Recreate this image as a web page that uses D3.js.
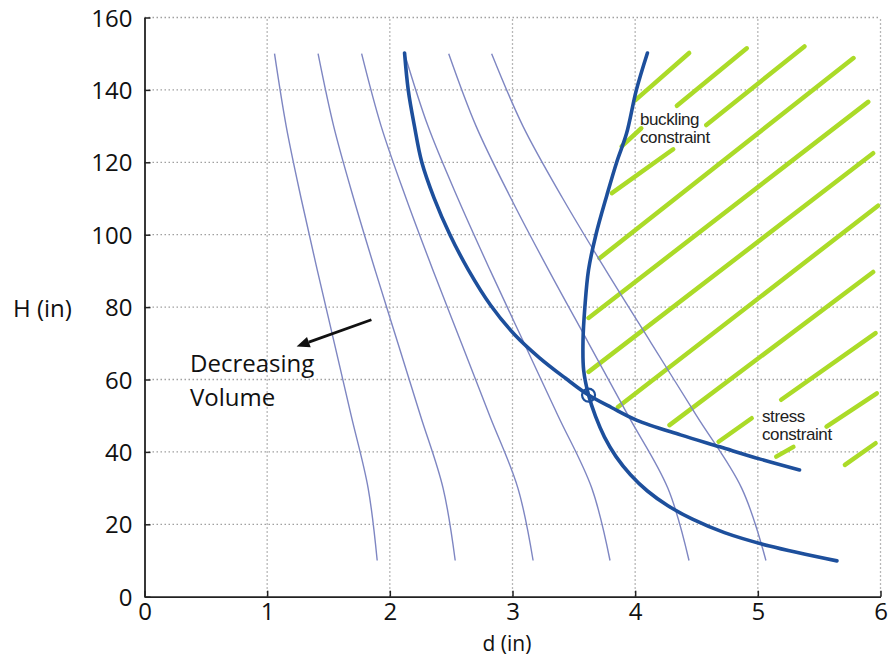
<!DOCTYPE html>
<html>
<head>
<meta charset="utf-8">
<script src="https://cdn.jsdelivr.net/npm/d3@7"></script>
<style>
  body { margin: 0; background: #fff; }
  svg { display: block; }
</style>
</head>
<body>
<div id="chart"></div>
<script>
// axis ticks
var xTicks = [0, 1, 2, 3, 4, 5, 6];
var yTicks = [0, 20, 40, 60, 80, 100, 120, 140, 160];

// constant volume contours: d value of each contour at these heights
var contourH = [150, 130, 110, 90, 70, 50, 30, 10];
var contourD = [
  [1.060, 1.155, 1.277, 1.410, 1.548, 1.685, 1.823, 1.897],
  [1.415, 1.542, 1.705, 1.882, 2.066, 2.250, 2.434, 2.533],
  [1.770, 1.929, 2.133, 2.354, 2.584, 2.814, 3.044, 3.168],
  [2.120, 2.311, 2.555, 2.820, 3.095, 3.371, 3.646, 3.795],
  [2.480, 2.703, 2.988, 3.298, 3.621, 3.943, 4.266, 4.439],
  [2.830, 3.085, 3.410, 3.764, 4.132, 4.500, 4.868, 5.066]
];

// constraint curves [d, H]
var stressCurve = [[2.12,150.2],[2.15,140],[2.20,130.1],[2.26,120.1],[2.36,110.2],[2.49,100],
  [2.64,90.3],[2.82,80.6],[3.02,72.3],[3.22,66],[3.43,60.4],[3.62,55.7],[3.81,52.2],[4.01,48.8],
  [4.37,44.7],[4.69,41.4],[5.02,38],[5.34,35]];
var bucklingCurve = [[4.10,150.2],[4.01,140],[3.93,128],[3.85,120.1],[3.77,111],[3.68,100],
  [3.62,90.3],[3.59,80],[3.575,71],[3.58,62.6],[3.62,55.7],[3.677,49.8],[3.75,44.1],[3.844,38.7],
  [3.962,33.7],[4.10,29.2],[4.264,25.2],[4.467,21.4],[4.728,17.7],[5.095,14.0],[5.645,9.9]];

// optimum point
var optimum = [3.62, 55.7];

// infeasible region hatching, [d1, H1, d2, H2]
var hatch = [
  [4.00,137.1, 4.44,150.2],
  [4.34,135.6, 4.91,151.5],
  [4.58,130.3, 5.38,152.0],
  [3.89,124.4, 4.05,129.4],
  [3.81,111.5, 4.31,123.6],
  [3.71,93.5, 5.78,148.8],
  [3.62,77.0, 5.90,136.7],
  [3.62,62.1, 5.94,122.5],
  [3.86,52.4, 5.98,108.0],
  [4.28,47.4, 5.94,89.7],
  [5.19,54.4, 5.96,72.8],
  [4.68,42.8, 4.95,49.3],
  [5.56,47.0, 5.97,56.2],
  [5.15,38.7, 5.29,41.4],
  [5.71,36.4, 5.96,42.4]
];

// decreasing volume arrow [d, H] from -> to
var arrowFrom = [1.85, 76.5];
var arrowTo = [1.24, 69.1];

var width = 889, height = 657;
var margin = {top: 17.5, right: 8.5, bottom: 60.3, left: 144.5};

var svg = d3.select("#chart").append("svg")
  .attr("width", width)
  .attr("height", height);

var x = d3.scaleLinear().domain([0, 6]).range([margin.left, width - margin.right]);
var y = d3.scaleLinear().domain([0, 160]).range([height - margin.bottom, margin.top]);

var font = "'Open Sans', 'Noto Sans', sans-serif";

// dotted grid
svg.append("g").selectAll("line")
  .data(xTicks.slice(1))
  .enter().append("line")
  .attr("x1", function(d) { return x(d); })
  .attr("x2", function(d) { return x(d); })
  .attr("y1", y(0)).attr("y2", y(160))
  .attr("stroke", "#a0a0a0").attr("stroke-width", 1.3)
  .attr("stroke-dasharray", "1.5,2.5");

svg.append("g").selectAll("line")
  .data(yTicks.slice(1))
  .enter().append("line")
  .attr("x1", x(0)).attr("x2", x(6))
  .attr("y1", function(d) { return y(d); })
  .attr("y2", function(d) { return y(d); })
  .attr("stroke", "#a0a0a0").attr("stroke-width", 1.3)
  .attr("stroke-dasharray", "1.5,2.5");

// axes, ticks pointing inwards
var xAxis = svg.append("g")
  .attr("transform", "translate(0," + y(0) + ")")
  .call(d3.axisBottom(x).tickValues(xTicks).tickFormat(d3.format("d"))
    .tickSizeInner(-6).tickSizeOuter(0).tickPadding(10));
var yAxis = svg.append("g")
  .attr("transform", "translate(" + x(0) + ",0)")
  .call(d3.axisLeft(y).tickValues(yTicks).tickFormat(d3.format("d"))
    .tickSizeInner(-6).tickSizeOuter(0).tickPadding(12));

[xAxis, yAxis].forEach(function(a) {
  a.select(".domain").attr("stroke", "#222").attr("stroke-width", 1.8);
  a.selectAll(".tick line").attr("stroke", "#222").attr("stroke-width", 1.5);
  a.selectAll(".tick text")
    .attr("fill", "#111")
    .style("font-family", font)
    .style("font-size", "24px");
});
xAxis.selectAll(".tick text").attr("dy", "0.55em");
yAxis.selectAll(".tick text").attr("dy", "0.36em");

svg.append("text")
  .attr("x", 13).attr("y", 317)
  .style("font-family", font).style("font-size", "24px")
  .attr("fill", "#111")
  .text("H (in)");

svg.append("text")
  .attr("x", 507).attr("y", 651)
  .attr("text-anchor", "middle")
  .style("font-family", font).style("font-size", "21px")
  .attr("fill", "#111")
  .text("d (in)");

var curve = d3.line()
  .x(function(p) { return x(p[0]); })
  .y(function(p) { return y(p[1]); })
  .curve(d3.curveCatmullRom);

// hatching
svg.append("g").selectAll("line")
  .data(hatch)
  .enter().append("line")
  .attr("x1", function(h) { return x(h[0]); })
  .attr("y1", function(h) { return y(h[1]); })
  .attr("x2", function(h) { return x(h[2]); })
  .attr("y2", function(h) { return y(h[3]); })
  .attr("stroke", "#abdb28")
  .attr("stroke-width", 4.5)
  .attr("stroke-linecap", "round");

// volume contours
svg.append("g").selectAll("path")
  .data(contourD)
  .enter().append("path")
  .attr("d", function(row) {
    return curve(row.map(function(d, i) { return [d, contourH[i]]; }));
  })
  .attr("fill", "none")
  .attr("stroke", "#7e86c2")
  .attr("stroke-width", 1.4);

// constraints
svg.append("g").selectAll("path")
  .data([stressCurve, bucklingCurve])
  .enter().append("path")
  .attr("d", curve)
  .attr("fill", "none")
  .attr("stroke", "#1d4f9c")
  .attr("stroke-width", 3.6)
  .attr("stroke-linecap", "round");

svg.append("circle")
  .attr("cx", x(optimum[0])).attr("cy", y(optimum[1]))
  .attr("r", 6.5)
  .attr("fill", "none")
  .attr("stroke", "#1d4f9c")
  .attr("stroke-width", 2.2);

// arrow
var ax1 = x(arrowFrom[0]), ay1 = y(arrowFrom[1]), ax2 = x(arrowTo[0]), ay2 = y(arrowTo[1]);
var ang = Math.atan2(ay2 - ay1, ax2 - ax1);
var headLen = 13, headW = 5.5;
var bx = ax2 - headLen * Math.cos(ang), by = ay2 - headLen * Math.sin(ang);
svg.append("line")
  .attr("x1", ax1).attr("y1", ay1).attr("x2", bx).attr("y2", by)
  .attr("stroke", "#111").attr("stroke-width", 2.8);
svg.append("path")
  .attr("d", "M" + ax2 + "," + ay2 +
    "L" + (bx + headW * Math.sin(ang)) + "," + (by - headW * Math.cos(ang)) +
    "L" + (bx - headW * Math.sin(ang)) + "," + (by + headW * Math.cos(ang)) + "Z")
  .attr("fill", "#111");

// annotations
var anno = svg.append("g").style("font-family", font).attr("fill", "#111");
anno.append("text").attr("x", 190).attr("y", 372).style("font-size", "24px").text("Decreasing");
anno.append("text").attr("x", 190).attr("y", 406).style("font-size", "24px").text("Volume");

var small = svg.append("g")
  .style("font-family", "'Liberation Sans', Arial, sans-serif")
  .style("font-size", "17px")
  .style("letter-spacing", "-0.4px")
  .attr("fill", "#222");
small.append("text").attr("x", 640).attr("y", 125).text("buckling");
small.append("text").attr("x", 640).attr("y", 143).text("constraint");
small.append("text").attr("x", 762).attr("y", 422).text("stress");
small.append("text").attr("x", 762).attr("y", 440).text("constraint");
</script>
</body>
</html>
